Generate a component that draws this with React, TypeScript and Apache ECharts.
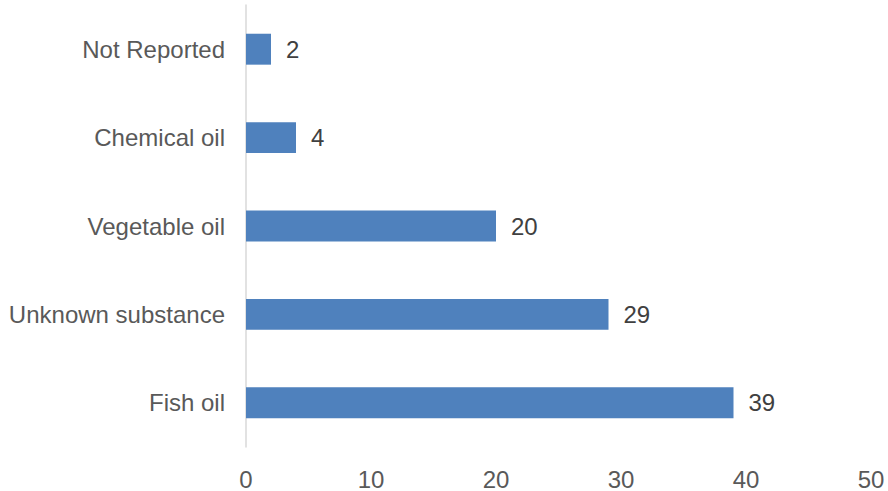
import React, { useEffect, useRef } from "react";
import * as echarts from "echarts";

const categories = ["Fish oil", "Unknown substance", "Vegetable oil", "Chemical oil", "Not Reported"];
const values = [39, 29, 20, 4, 2];
const xTicks = [0, 10, 20, 30, 40, 50];

export default function App() {
  const ref = useRef<HTMLDivElement>(null);
  useEffect(() => {
    if (!ref.current) return;
    const chart = echarts.init(ref.current, undefined, { renderer: "svg" });
    chart.setOption({
      animation: false,
      grid: { left: 246, right: 17, top: 5, bottom: 43, containLabel: false },
      xAxis: {
        type: "value",
        min: xTicks[0],
        max: xTicks[xTicks.length - 1],
        interval: 10,
        axisLine: { show: false },
        axisTick: { show: false },
        splitLine: { show: false },
        axisLabel: {
          color: "#595959",
          fontSize: 24,
          fontFamily: "Liberation Sans, Arial, sans-serif",
          margin: 20,
        },
      },
      yAxis: {
        type: "category",
        data: categories,
        axisLine: { show: true, lineStyle: { color: "#d9d9d9", width: 1.5 } },
        axisTick: { show: false },
        axisLabel: {
          color: "#595959",
          fontSize: 24,
          fontFamily: "Liberation Sans, Arial, sans-serif",
          margin: 21,
        },
      },
      series: [
        {
          type: "bar",
          data: values,
          barWidth: "35%",
          itemStyle: { color: "#4f81bd" },
          label: {
            show: true,
            position: "right",
            distance: 15,
            color: "#404040",
            fontSize: 24,
            fontFamily: "Liberation Sans, Arial, sans-serif",
          },
        },
      ],
    });
    return () => chart.dispose();
  }, []);
  return <div ref={ref} style={{ width: 888, height: 491, position: "absolute", left: 0, top: 0, background: "#fff" }} />;
}
